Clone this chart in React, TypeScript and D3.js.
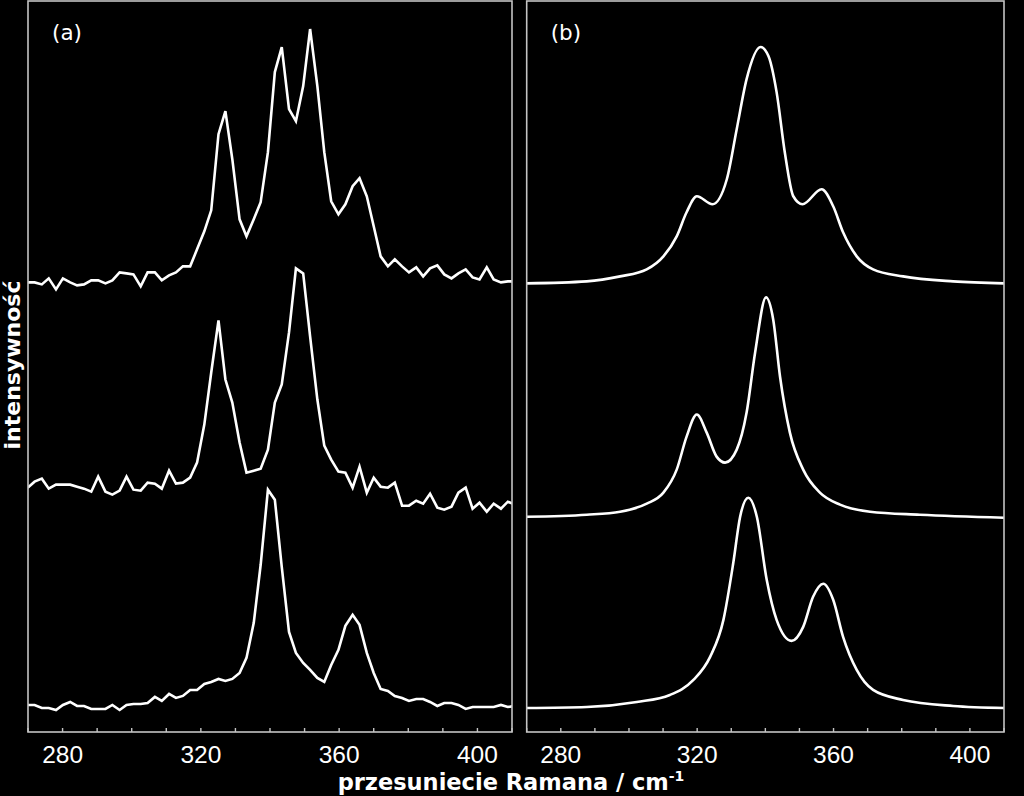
import React from "react";
import * as d3 from "d3";

// ---------- data ----------
// panel (a): measured spectra on a common wavenumber grid (cm-1)
const WAVENUMBERS_A = [
  269.9, 271.9, 274.0, 276.0, 278.1, 280.1, 282.2, 284.2, 286.2, 288.3,
  290.3, 292.4, 294.4, 296.5, 298.5, 300.5, 302.6, 304.6, 306.7, 308.7,
  310.8, 312.8, 314.8, 316.9, 318.9, 321.0, 323.0, 325.1, 327.1, 329.1,
  331.2, 333.2, 335.3, 337.3, 339.4, 341.4, 343.4, 345.5, 347.5, 349.6,
  351.6, 353.7, 355.7, 357.7, 359.8, 361.8, 363.9, 365.9, 368.0, 370.0,
  372.0, 374.1, 376.1, 378.2, 380.2, 382.3, 384.3, 386.3, 388.4, 390.4,
  392.5, 394.5, 396.6, 398.6, 400.6, 402.7, 404.7, 406.8, 408.8, 410.9,
];
const SPECTRUM_A_TOP = [
  449, 449, 447, 453, 442, 453, 449, 446, 447, 451,
  451, 448, 451, 459, 458, 457, 445, 459, 459, 451,
  456, 459, 465, 465, 482, 500, 521, 597, 620, 572,
  512, 495, 512, 529, 579, 659, 684, 622, 610, 645,
  702, 645, 579, 530, 517, 527, 545, 553, 535, 505,
  475, 465, 472, 465, 459, 464, 455, 463, 466, 457,
  453, 458, 462, 454, 452, 464, 452, 449, 450, 450,
];
const SPECTRUM_A_MID = [
  244, 250, 253, 243, 247, 247, 247, 245, 243, 240,
  255, 240, 237, 241, 255, 242, 241, 249, 248, 243,
  261, 248, 249, 254, 269, 307, 359, 411, 352, 329,
  289, 259, 261, 263, 282, 329, 347, 399, 463, 458,
  395, 332, 286, 272, 260, 259, 244, 265, 239, 254,
  245, 244, 249, 226, 226, 231, 228, 238, 224, 222,
  225, 239, 244, 223, 229, 220, 228, 223, 230, 227,
];
const SPECTRUM_A_BOT = [
  27, 27, 24, 24, 22, 27, 30, 26, 26, 23,
  23, 23, 27, 22, 27, 28, 28, 29, 35, 31,
  38, 34, 36, 42, 42, 48, 50, 53, 51, 53,
  59, 74, 109, 167, 242, 232, 165, 100, 79, 69,
  62, 54, 50, 67, 82, 106, 117, 107, 79, 59,
  43, 41, 36, 34, 31, 33, 33, 30, 26, 29,
  29, 27, 23, 25, 25, 25, 25, 27, 25, 26,
];

// panel (b): fitted curves
const FIT_B_TOP_X = [270, 287.6, 297.4, 305.2, 310.1, 314, 316.9, 319.9, 324.5, 328.7, 331.6, 334.5, 338.6, 340.9, 343.3, 345.7, 348.2, 350.9, 356.5, 359.9, 362.8, 366.8, 371.6, 380.4, 395.1, 410];
const FIT_B_TOP_Y = [448, 450, 455, 462, 475, 495, 519, 535, 527, 552, 602, 652, 684, 675, 639, 579, 535, 527, 542, 525, 499, 475, 462, 455, 450, 448];
const FIT_B_MID_X = [270, 287.6, 297.4, 305.2, 310.1, 314, 316.9, 319.9, 322.8, 325.7, 328.2, 331.6, 334.5, 337, 340.2, 342.3, 344.3, 347.2, 351.1, 356, 361.9, 370.7, 385.3, 410];
const FIT_B_MID_Y = [215, 217, 220, 228, 239, 262, 295, 317, 299, 275, 269, 282, 319, 379, 434, 412, 355, 299, 262, 239, 227, 220, 217, 214];
const FIT_B_BOT_X = [270, 287.6, 302.3, 312, 318.9, 323.8, 327.7, 330.6, 332.6, 335, 337.5, 340.4, 343.3, 347.7, 351.1, 354, 357, 359.9, 362.8, 366.8, 371.6, 380.4, 395.1, 410];
const FIT_B_BOT_Y = [24, 25, 30, 37, 52, 75, 112, 169, 215, 234, 215, 152, 112, 91, 105, 135, 148, 132, 95, 62, 42, 32, 26, 24];

const X_DOMAIN = [270, 410];
const MINOR_TICKS = [270, 280, 290, 300, 310, 320, 330, 340, 350, 360, 370, 380, 390, 400, 410];
const LABEL_TICKS = [280, 320, 360, 400];
const PANEL_LABELS = ["(a)", "(b)"];

// ---------- layout ----------
const W = 1024;
const H = 796;
const TOP = 1;
const BOTTOM = 732;
const PANELS = [
  { left: 28, right: 512 },
  { left: 526.7, right: 1004 },
];
const FRAME = "#c4c4c4";

export default function App() {
  const y = d3.scaleLinear().domain([0, 730]).range([BOTTOM, TOP]);
  const xs = PANELS.map((p) => d3.scaleLinear().domain(X_DOMAIN).range([p.left, p.right]));

  const lineA = d3
    .line<number>()
    .x((_, i) => xs[0](WAVENUMBERS_A[i]))
    .y((d) => y(d))
    .curve(d3.curveLinear);
  const spectraA = [SPECTRUM_A_TOP, SPECTRUM_A_MID, SPECTRUM_A_BOT];

  const fitsB = [
    [FIT_B_TOP_X, FIT_B_TOP_Y],
    [FIT_B_MID_X, FIT_B_MID_Y],
    [FIT_B_BOT_X, FIT_B_BOT_Y],
  ];
  const lineB = d3
    .line<[number, number]>()
    .x((d) => xs[1](d[0]))
    .y((d) => y(d[1]))
    .curve(d3.curveMonotoneX);

  return (
    <svg
      width={W}
      height={H}
      style={{ position: "absolute", left: 0, top: 0, background: "#000", display: "block" }}
    >
      <rect x={0} y={0} width={W} height={H} fill="#000" />
      <defs>
        {PANELS.map((p, i) => (
          <clipPath id={`clip${i}`} key={i}>
            <rect x={p.left} y={TOP} width={p.right - p.left} height={BOTTOM - TOP} />
          </clipPath>
        ))}
      </defs>

      {/* data */}
      <g clipPath="url(#clip0)">
        {spectraA.map((s, i) => (
          <path key={i} d={lineA(s) || ""} fill="none" stroke="#fff" strokeWidth={2.6} strokeLinejoin="miter" />
        ))}
      </g>
      <g clipPath="url(#clip1)">
        {fitsB.map(([xv, yv], i) => (
          <path
            key={i}
            d={lineB(xv.map((v, j) => [v, yv[j]] as [number, number])) || ""}
            fill="none"
            stroke="#fff"
            strokeWidth={2.6}
          />
        ))}
      </g>

      {/* frames, ticks, labels */}
      {PANELS.map((p, i) => (
        <g key={i}>
          <rect
            x={p.left}
            y={TOP}
            width={p.right - p.left}
            height={BOTTOM - TOP}
            fill="none"
            stroke={FRAME}
            strokeWidth={1.6}
          />
          {MINOR_TICKS.map((t) => (
            <line key={t} x1={xs[i](t)} x2={xs[i](t)} y1={BOTTOM} y2={BOTTOM - 4} stroke={FRAME} strokeWidth={1.4} />
          ))}
          {LABEL_TICKS.map((t) => (
            <text
              key={t}
              x={xs[i](t)}
              y={763}
              fill="#fff"
              fontFamily="Liberation Sans, Arial, sans-serif"
              fontSize={24.5}
              textAnchor="middle"
            >
              {t}
            </text>
          ))}
          <text
            x={p.left + 24}
            y={40}
            fill="#fff"
            fontFamily="DejaVu Sans, Verdana, sans-serif"
            fontSize={21.5}
          >
            {PANEL_LABELS[i]}
          </text>
        </g>
      ))}

      <text
        x={511}
        y={790}
        fill="#fff"
        fontFamily="DejaVu Sans, Verdana, sans-serif"
        fontWeight="bold"
        fontSize={22.5}
        textAnchor="middle"
      >
        przesuniecie Ramana / cm
        <tspan fontSize={14} dy={-9}>-1</tspan>
      </text>
      <text
        transform="translate(20,365) rotate(-90)"
        fill="#fff"
        fontFamily="DejaVu Sans, Verdana, sans-serif"
        fontWeight="bold"
        fontSize={22}
        textAnchor="middle"
      >
        intensywność
      </text>
    </svg>
  );
}
